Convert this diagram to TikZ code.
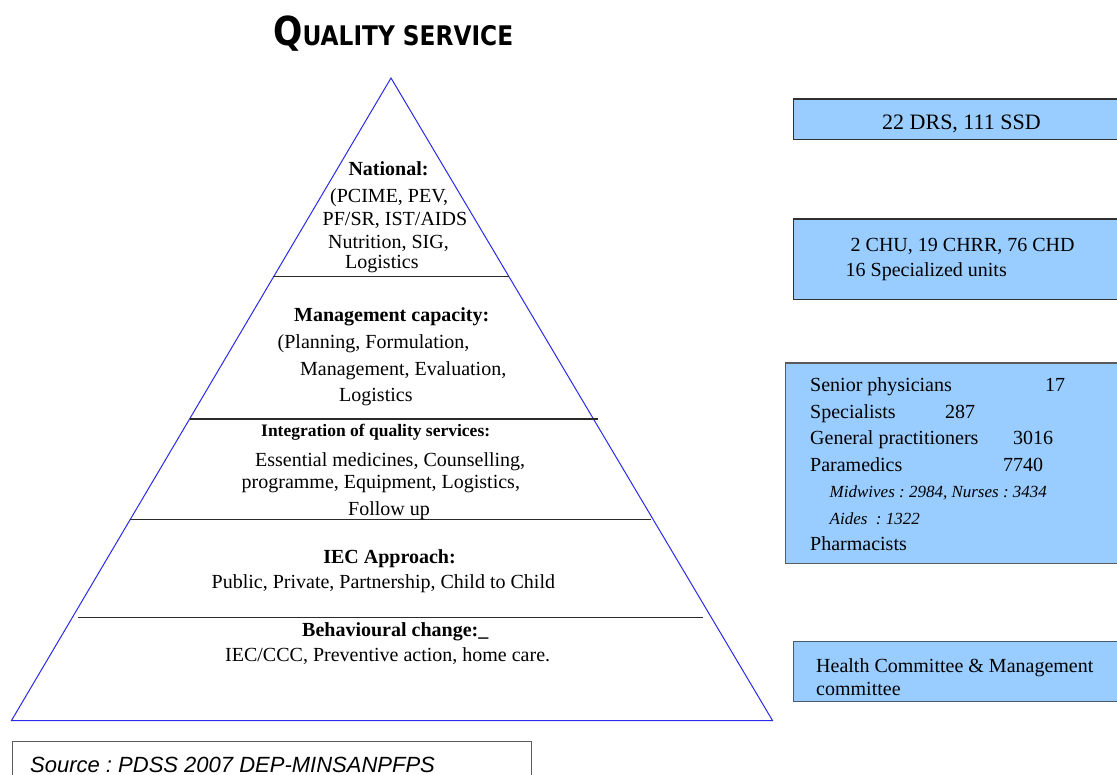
\documentclass[tikz,border=0pt]{standalone}
\usepackage{fontspec}
\usepackage{graphicx}
\setmainfont{Liberation Serif}
\newfontfamily\srcfont{Liberation Sans}
\newfontfamily\titlefont{DejaVu Sans}
\definecolor{boxblue}{HTML}{99CCFF}
\definecolor{pyrblue}{HTML}{2B2BEA}
\definecolor{tiergray}{HTML}{2A2A2A}
\definecolor{boxedge}{HTML}{303030}
\definecolor{boxedgeb}{HTML}{5A5A5A}
\definecolor{boxedgec}{HTML}{4A5A6E}
\frenchspacing
\tikzset{
  pyr/.style={draw=pyrblue, line width=1pt, line join=miter},
  tier/.style={draw=tiergray, line width=1.2pt},
  infobox/.style={fill=boxblue, draw=boxedge, line width=1.2pt, inner sep=0pt, anchor=north west},
  srcbox/.style={draw=boxedgeb, line width=1pt, inner sep=0pt, anchor=north west},
  tx/.style={inner sep=0pt, anchor=base west, font=\fontsize{20}{24}\selectfont},
  txc/.style={inner sep=0pt, anchor=base, font=\fontsize{20}{24}\selectfont},
  hd/.style={inner sep=0pt, anchor=base, font=\fontsize{20}{24}\selectfont\bfseries},
  hdl/.style={inner sep=0pt, anchor=base west, font=\fontsize{20}{24}\selectfont\bfseries},
  itx/.style={inner sep=0pt, anchor=base west, font=\fontsize{17}{20}\selectfont\itshape},
}
\begin{document}
\frenchspacing
\begin{tikzpicture}[x=1pt,y=-1pt]
\useasboundingbox (0,0) rectangle (1117,775);
\fill[white] (0,0) rectangle (1117,775);

% title
\node[inner sep=0pt, anchor=base west] (title) at (273,46)
  {\resizebox{240pt}{\height}{\titlefont\bfseries\fontsize{40}{40}\selectfont Q\fontsize{27}{27}\selectfont UALITY SERVICE}};

% pyramid
\coordinate (apex) at (391,78);
\coordinate (bl) at (11.5,720.5);
\coordinate (br) at (772.5,720.5);
\draw[pyr] (apex) -- (br) -- (bl) -- cycle;

\coordinate (t1a) at (272.5,276.5); \coordinate (t1b) at (509,276.5);
\coordinate (t2a) at (190,419);     \coordinate (t2b) at (598,419);
\coordinate (t3a) at (130,519.5);   \coordinate (t3b) at (651,519.5);
\coordinate (t4a) at (78,617.5);    \coordinate (t4b) at (703,617.5);
\draw[tier] (t1a) -- (t1b);
\draw[tier] (t2a) -- (t2b);
\draw[tier] (t3a) -- (t3b);
\draw[tier] (t4a) -- (t4b);

% tier 1
\node[hd] (nat) at (388.5,175.5) {National:};
\node[tx] (nat1) at (330,203) {(PCIME, PEV,};
\node[tx] (nat2) at (322.5,226) {PF/SR, IST/AIDS};
\node[tx] (nat3) at (328,248.5) {Nutrition, SIG,};
\node[tx] (nat4) at (345,269) {Logistics};

% tier 2
\node[hdl] (mgt) at (294,321.5) {Management capacity:};
\node[tx] (mgt1) at (277.5,349) {(Planning, Formulation,};
\node[tx] (mgt2) at (300,376) {Management, Evaluation,};
\node[tx] (mgt3) at (339,401.5) {Logistics};

% tier 3
\node[inner sep=0pt, anchor=base west, font=\fontsize{17.5}{20}\selectfont\bfseries] (iqs) at (261,436.5) {Integration of quality services:};
\node[tx] (iqs1) at (255,466.5) {Essential medicines, Counselling,};
\node[tx] (iqs2) at (241.5,489) {programme, Equipment, Logistics,};
\node[tx] (iqs3) at (348,515) {Follow up};

% tier 4
\node[hd] (iec) at (389.5,563.5) {IEC Approach:};
\node[tx] (iec1) at (211.5,588.5) {Public, Private, Partnership, Child to Child};

% tier 5
\node[hdl] (beh) at (302,636) {Behavioural change:\_};
\node[tx] (beh1) at (225,661) {IEC/CCC, Preventive action, home care.};

% right boxes
\node[infobox, minimum width=340pt, minimum height=40.5pt] (box1) at (793,98.5) {};
\node[tx, font=\fontsize{22}{26}\selectfont] (box1t) at (882,130) {22 DRS, 111 SSD};

\node[infobox, minimum width=340pt, minimum height=80.5pt] (box2) at (793,218.5) {};
\node[tx] (box2a) at (850.5,251.5) {2 CHU, 19 CHRR, 76 CHD};
\node[tx] (box2b) at (845.5,276.5) {16 Specialized units};

\node[infobox, draw=boxedgeb, line width=1.6pt, minimum width=340pt, minimum height=200pt] (box3) at (784.5,362.5) {};
\node[tx] (s1) at (810,391.5) {Senior physicians};
\node[tx] (s1n) at (1045,391.5) {17};
\node[tx] (s2) at (810,418.3) {Specialists};
\node[tx] (s2n) at (945,418.3) {287};
\node[tx] (s3) at (810,445) {General practitioners};
\node[tx] (s3n) at (1013,445) {3016};
\node[tx] (s4) at (810,471.7) {Paramedics};
\node[tx] (s4n) at (1003,471.7) {7740};
\node[itx] (s5) at (829.5,497.3) {Midwives : 2984, Nurses : 3434};
\node[itx] (s6) at (829.5,524) {Aides~~: 1322};
\node[tx] (s7) at (810,550.7) {Pharmacists};

\node[infobox, draw=boxedgec, minimum width=340pt, minimum height=60pt] (box4) at (793,640.7) {};
\node[tx] (b4a) at (816,672.7) {Health Committee \& Management};
\node[tx] (b4b) at (816,695) {committee};

% source
\node[srcbox, minimum width=519pt, minimum height=60pt] (src) at (11.5,741) {};
\node[inner sep=0pt, anchor=base west, font=\srcfont\itshape\fontsize{22}{26}\selectfont] (srct) at (30,772) {Source : PDSS 2007 DEP-MINSANPFPS};
\end{tikzpicture}
\end{document}
